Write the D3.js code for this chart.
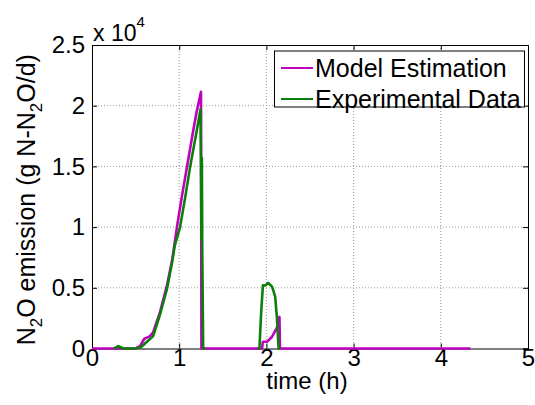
<!DOCTYPE html>
<html><head><meta charset="utf-8">
<script src="https://cdn.jsdelivr.net/npm/d3@7"></script>
<style>body{margin:0;background:#fff}svg{display:block}text{font-family:"Liberation Sans",Arial,sans-serif;fill:#000}</style>
</head><body>
<script>
const xTicks = [0,1,2,3,4,5];
const yTicks = [0,0.5,1,1.5,2,2.5];
const yTickLabels = ["0","0.5","1","1.5","2","2.5"];
const seriesNames = ["Model Estimation","Experimental Data"];
// time (h), emission (x 10^4 g N-N2O/d)
const modelT = [0,0.5,0.55,0.6,0.63,0.66,0.7,0.78,0.86,0.92,0.974,1.03,1.09,1.15,1.2,1.25,1.255,1.95,1.96,2.01,2.065,2.12,2.15,2.155,4.34];
const modelV = [0,0,0.02,0.08,0.09,0.1,0.13,0.3,0.52,0.73,1.0,1.25,1.5,1.75,1.95,2.115,0,0,0.056,0.056,0.097,0.17,0.26,0,0];
const expT = [0.25,0.28,0.3,0.33,0.36,0.5,0.56,0.62,0.7,0.78,0.86,0.916,0.95,1.01,1.07,1.126,1.19,1.245,1.255,1.26,1.265,1.275,1.3,null,1.9,1.92,1.94,1.96,1.99,2.02,2.065,2.1,2.12,2.14,2.16];
const expV = [0,0.01,0.02,0.01,0,0,0.01,0.05,0.1,0.28,0.49,0.7,0.85,1.0,1.25,1.5,1.75,1.97,0.9,1.57,0.76,0,0,null,0,0,0.3,0.52,0.52,0.54,0.51,0.43,0.26,0,0];

const W=535,H=405;
const m={l:92,r:528,t:45,b:348.5};
const svg=d3.select("body").append("svg").attr("width",W).attr("height",H);
const x=d3.scaleLinear().domain([0,5]).range([m.l,m.r]);
const y=d3.scaleLinear().domain([0,2.5]).range([m.b,m.t]);

// grid
const g=svg.append("g");
g.selectAll(".vg").data(xTicks.slice(1,-1)).join("line")
 .attr("x1",d=>x(d)).attr("x2",d=>x(d)).attr("y1",m.t).attr("y2",m.b)
 .attr("stroke","#999").attr("stroke-width",1).attr("stroke-dasharray","1,2");
g.selectAll(".hg").data(yTicks.slice(1,-1)).join("line")
 .attr("y1",d=>y(d)).attr("y2",d=>y(d)).attr("x1",m.l).attr("x2",m.r)
 .attr("stroke","#999").attr("stroke-width",1).attr("stroke-dasharray","1,2");

// axes
const xAxis=d3.axisBottom(x).tickValues(xTicks).tickSize(-5).tickPadding(0).tickFormat(d3.format("d"));
const yAxis=d3.axisLeft(y).tickValues(yTicks).tickSize(-5).tickPadding(7).tickFormat((d,i)=>yTickLabels[i]);
const gx=svg.append("g").attr("transform",`translate(0,${m.b})`).call(xAxis);
const gy=svg.append("g").attr("transform",`translate(${m.l},0)`).call(yAxis);
const gx2=svg.append("g").attr("transform",`translate(0,${m.t})`).call(d3.axisTop(x).tickValues(xTicks).tickSize(-5).tickFormat(""));
const gy2=svg.append("g").attr("transform",`translate(${m.r},0)`).call(d3.axisRight(y).tickValues(yTicks).tickSize(-5).tickFormat(""));
[gx,gy,gx2,gy2].forEach(a=>{a.select(".domain").attr("stroke","#000");a.selectAll(".tick line").attr("stroke","#000");a.selectAll("text").style("font-size","24px").attr("fill","#000");});
gx.selectAll("text").attr("dy","0.74em");

// data lines
const modelData=modelT.map((t,i)=>({t,v:modelV[i]}));
const expData=expT.map((t,i)=>({t,v:expV[i]}));
const line=d3.line().defined(d=>d.t!=null&&d.v!=null).x(d=>x(d.t)).y(d=>y(d.v));
svg.append("path").datum(modelData).attr("d",line).attr("fill","none").attr("stroke","#bf00bf").attr("stroke-width",2.6).attr("stroke-linejoin","round");
svg.append("path").datum(expData).attr("d",line).attr("fill","none").attr("stroke","#0a800a").attr("stroke-width",2.6).attr("stroke-linejoin","round");

// exponent
const ex=svg.append("text").attr("x",93).attr("y",41).style("font-size","23px");
ex.append("tspan").text("x 10");
ex.append("tspan").attr("dy",-14).style("font-size","15px").text("4");

// x label
svg.append("text").attr("x",(m.l+m.r)/2-3).attr("y",389).attr("text-anchor","middle").style("font-size","24px").text("time (h)");
// y label
const yl=svg.append("text").attr("transform",`translate(35,${(m.t+m.b)/2+3}) rotate(-90)`).attr("text-anchor","middle").style("font-size","25px");
yl.append("tspan").text("N");
yl.append("tspan").attr("dy",7).style("font-size","17px").text("2");
yl.append("tspan").attr("dy",-7).text("O emission (g N-N");
yl.append("tspan").attr("dy",7).style("font-size","17px").text("2");
yl.append("tspan").attr("dy",-7).text("O/d)");

// legend
const lg=svg.append("g");
lg.append("rect").attr("x",274.5).attr("y",51).attr("width",250).attr("height",56).attr("fill","#fff").attr("stroke","#000").attr("stroke-width",1);
const colors=["#bf00bf","#0a800a"];
seriesNames.forEach((n,i)=>{
  const yy=68+i*31;
  lg.append("line").attr("x1",281).attr("x2",313).attr("y1",yy).attr("y2",yy).attr("stroke",colors[i]).attr("stroke-width",2);
  lg.append("text").attr("x",315).attr("y",yy+9).style("font-size","25px").text(n);
});
</script>
</body></html>
